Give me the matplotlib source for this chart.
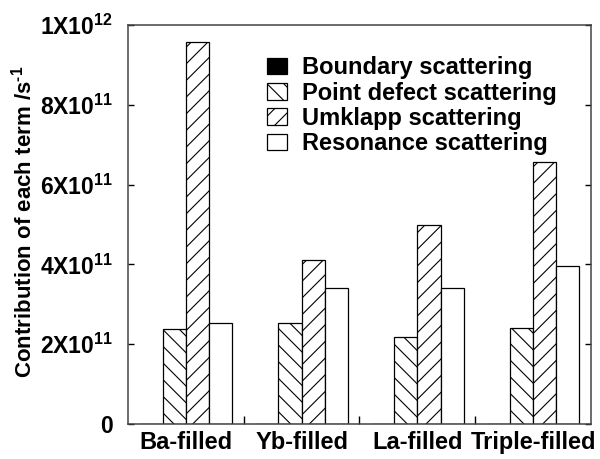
import numpy as np
import matplotlib
matplotlib.use("Agg")
import matplotlib.pyplot as plt
from matplotlib.patches import Patch

# scattering rate contributions, one value per sample
samples = ["Ba-filled", "Yb-filled", "La-filled", "Triple-filled"]
terms = ["Boundary scattering", "Point defect scattering",
         "Umklapp scattering", "Resonance scattering"]
boundary = [0.0, 0.0, 0.0, 0.0]
point_defect = [2.39e11, 2.53e11, 2.17e11, 2.41e11]
umklapp = [9.58e11, 4.11e11, 5.00e11, 6.57e11]
resonance = [2.54e11, 3.41e11, 3.41e11, 3.97e11]
y_ticks = [0, 2e11, 4e11, 6e11, 8e11, 1e12]
y_tick_labels = ["0", "2X10$^{11}$", "4X10$^{11}$", "6X10$^{11}$",
                 "8X10$^{11}$", "1X10$^{12}$"]

plt.rcParams["font.family"] = "Liberation Sans"
plt.rcParams["font.weight"] = "bold"
plt.rcParams["axes.labelweight"] = "bold"
plt.rcParams["mathtext.fontset"] = "custom"
plt.rcParams["mathtext.rm"] = "Liberation Sans:bold"
plt.rcParams["mathtext.bf"] = "Liberation Sans:bold"
plt.rcParams["mathtext.default"] = "bf"
plt.rcParams["hatch.linewidth"] = 0.8

fig = plt.figure(figsize=(6, 4.59), dpi=100)
ax = fig.add_axes([0.2133, 0.0763, 0.7717, 0.869])

styles = [
    dict(color="black", hatch=None),
    dict(color="white", hatch="\\\\"),
    dict(color="white", hatch="//"),
    dict(color="white", hatch=None),
]
series = [boundary, point_defect, umklapp, resonance]
x = np.arange(len(samples)) + 0.5
width = 0.2
for i, (vals, st) in enumerate(zip(series, styles)):
    ax.bar(x + (i - 1.5) * width, vals, width, color=st["color"],
           hatch=st["hatch"], edgecolor="black", linewidth=0.9, zorder=2)

ax.set_xlim(0, len(samples))
ax.set_ylim(0, 1e12)
ax.set_yticks(y_ticks)
ax.set_yticklabels(y_tick_labels, fontsize=16.5)
ax.set_xticks(x)
ax.set_xticklabels(samples, fontsize=17)
ax.set_xticks(np.arange(1, len(samples)), minor=True)
ax.tick_params(axis="x", which="major", length=0, pad=5)
ax.tick_params(axis="x", which="minor", direction="in", length=6, width=1)
ax.tick_params(axis="y", direction="in", length=4, width=1, right=True, pad=11)
for sp in ax.spines.values():
    sp.set_linewidth(1.1)
    sp.set_color("#444444")

ax.set_ylabel("Contribution of each term /s$^{\\text{-}1}$", fontsize=16)
ax.yaxis.set_label_coords(-0.197, 0.507)

handles = [Patch(facecolor=st["color"], hatch=st["hatch"], edgecolor="black",
                 linewidth=0.9) for st in styles]
ax.legend(handles, terms, loc="upper left", bbox_to_anchor=(0.30, 0.922),
          frameon=False, fontsize=17, handlelength=0.85, handleheight=0.7,
          handletextpad=0.65, labelspacing=0.1, borderpad=0, borderaxespad=0)

fig.savefig("out.png", dpi=100)
